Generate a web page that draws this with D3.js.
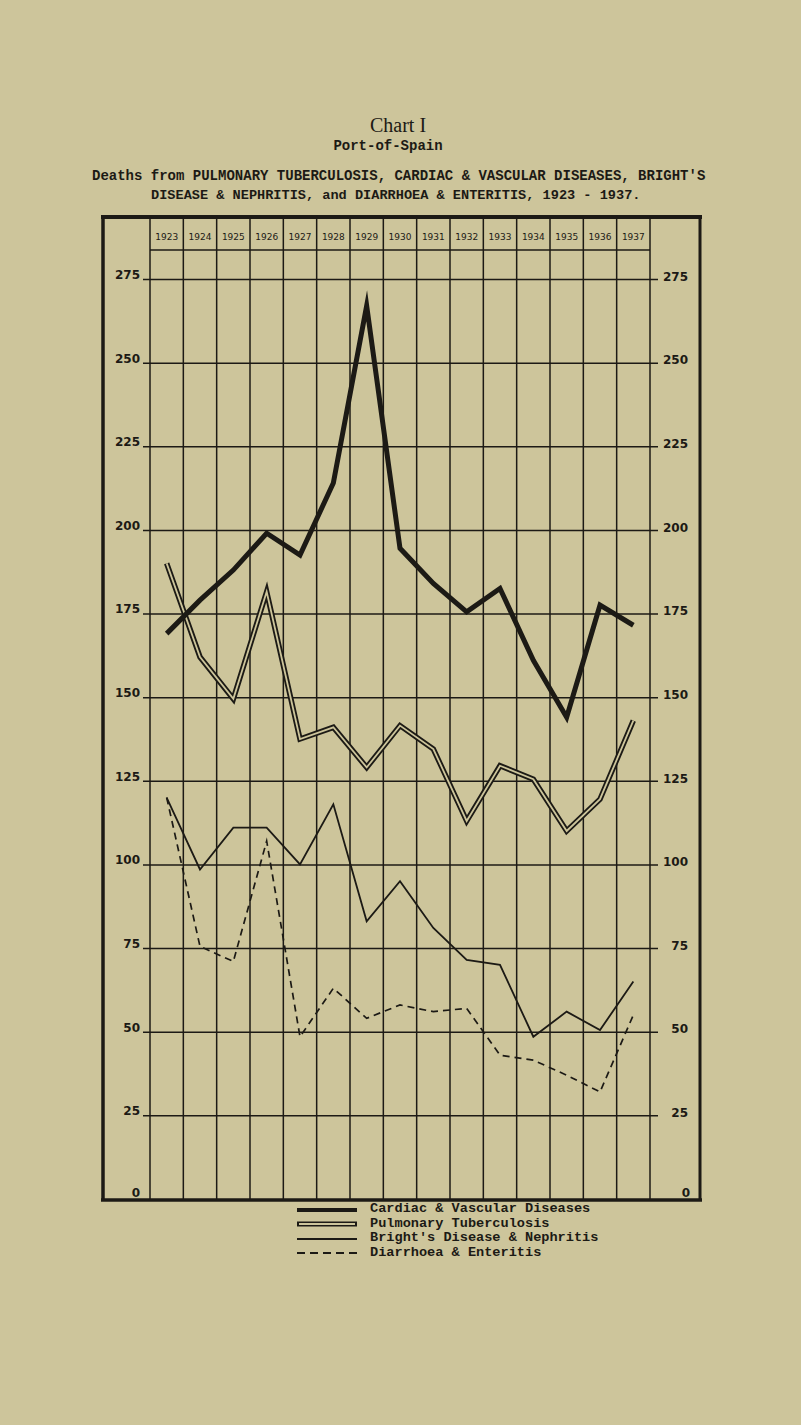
<!DOCTYPE html>
<html>
<head>
<meta charset="utf-8">
<script src="https://cdn.jsdelivr.net/npm/d3@7"></script>
<style>
  html, body { margin: 0; padding: 0; background: #cdc59b; }
  svg { display: block; }
</style>
</head>
<body>
<svg id="chart" width="801" height="1425"></svg>
<script>
const years = [1923, 1924, 1925, 1926, 1927, 1928, 1929, 1930, 1931, 1932, 1933, 1934, 1935, 1936, 1937];
const cardiac   = [169, 179, 188, 199, 192.5, 214, 267, 194.5, 184, 175.5, 182.5, 161, 144, 177.5, 171.5];
const pulmonary = [190, 162, 149.5, 181.5, 137.5, 141, 129, 141.5, 134.5, 113, 129.5, 125.5, 110, 119.5, 143];
const brights   = [120, 98.5, 111, 111, 100, 118, 83, 95, 81, 71.5, 70, 48.5, 56, 50.5, 65];
const diarrhoea = [120, 75.5, 71, 107, 48.5, 63, 54, 58, 56, 57, 43, 41.5, 37, 32, 55];
const yTicks = [0, 25, 50, 75, 100, 125, 150, 175, 200, 225, 250, 275];
const titleChart = "Chart I";
const titlePlace = "Port-of-Spain";
const titleLine1 = "Deaths from PULMONARY TUBERCULOSIS, CARDIAC & VASCULAR DISEASES, BRIGHT'S";
const titleLine2 = "DISEASE & NEPHRITIS, and DIARRHOEA & ENTERITIS, 1923 - 1937.";
const seriesNames = ["Cardiac & Vascular Diseases", "Pulmonary Tuberculosis", "Bright's Disease & Nephritis", "Diarrhoea & Enteritis"];

const PAPER = "#cdc59b";
const INK = "#1c1a15";
const svg = d3.select("#chart");
svg.append("rect").attr("width", 801).attr("height", 1425).attr("fill", PAPER);

const x = d3.scaleBand().domain(years).range([150, 650]).padding(0);
const cx = yr => x(yr) + x.bandwidth() / 2;
const y = d3.scaleLinear().domain([0, 275]).range([1199, 279]);

// Titles
const mono = "'Liberation Mono', 'DejaVu Sans Mono', monospace";
svg.append("text").attr("x", 398).attr("y", 132).attr("text-anchor", "middle")
  .attr("font-family", "'Liberation Serif', serif").attr("font-size", 20).attr("fill", INK).text(titleChart);
svg.append("text").attr("x", 388).attr("y", 150).attr("text-anchor", "middle")
  .attr("font-family", mono).attr("font-weight", "bold").attr("font-size", 14).attr("fill", INK).text(titlePlace);
svg.append("text").attr("x", 92).attr("y", 180)
  .attr("font-family", mono).attr("font-weight", "bold").attr("font-size", 14).attr("fill", INK).text(titleLine1);
svg.append("text").attr("x", 151).attr("y", 199)
  .attr("font-family", mono).attr("font-weight", "bold").attr("font-size", 13.6).attr("fill", INK).text(titleLine2);

// Grid: vertical column lines
const grid = svg.append("g").attr("stroke", INK).attr("stroke-width", 1.5);
const edges = years.map(yr => x(yr)).concat([x.range()[1]]);
grid.selectAll("line.v").data(edges).join("line").attr("class", "v")
  .attr("x1", d => d).attr("x2", d => d).attr("y1", 217).attr("y2", 1200);
// header row separator
grid.append("line").attr("x1", 150).attr("x2", 650).attr("y1", 250).attr("y2", 250);

// Left axis with horizontal gridlines
const leftAxis = d3.axisLeft(y).tickValues(yTicks.filter(v => v > 0)).tickSize(-(658 - 143)).tickPadding(3);
const gL = svg.append("g").attr("transform", "translate(143,0)").call(leftAxis);
gL.select(".domain").remove();
gL.selectAll(".tick line").attr("stroke", INK).attr("stroke-width", 1.5);
gL.selectAll(".tick text").attr("fill", INK).attr("font-family", "'DejaVu Sans', sans-serif")
  .attr("font-weight", "bold").attr("font-size", 12).attr("dy", "-0.05em").attr("x", -3);

// Right axis labels
const rightAxis = d3.axisRight(y).tickValues(yTicks.filter(v => v > 0)).tickSize(0).tickPadding(30);
const gR = svg.append("g").attr("transform", "translate(658,0)").call(rightAxis);
gR.select(".domain").remove();
gR.selectAll(".tick text").attr("fill", INK).attr("font-family", "'DejaVu Sans', sans-serif")
  .attr("font-weight", "bold").attr("font-size", 12).attr("text-anchor", "end").attr("dy", "0.1em");

// zero labels
svg.append("text").attr("x", 140).attr("y", y(0) - 2).attr("text-anchor", "end")
  .attr("font-family", "'DejaVu Sans', sans-serif").attr("font-weight", "bold").attr("font-size", 12).attr("fill", INK).text(yTicks[0]);
svg.append("text").attr("x", 690).attr("y", y(0) - 2).attr("text-anchor", "end")
  .attr("font-family", "'DejaVu Sans', sans-serif").attr("font-weight", "bold").attr("font-size", 12).attr("fill", INK).text(yTicks[0]);

// Year header
const topAxis = d3.axisTop(x).tickSize(0).tickPadding(0);
const gT = svg.append("g").attr("transform", "translate(0,240)").call(topAxis);
gT.select(".domain").remove();
gT.selectAll(".tick text").attr("fill", INK).attr("font-family", "'DejaVu Sans', sans-serif")
  .attr("font-size", 9).attr("dy", 0);

// Frame
const frame = svg.append("g").attr("stroke", INK).attr("fill", "none");
frame.append("line").attr("x1", 101).attr("x2", 702).attr("y1", 217).attr("y2", 217).attr("stroke-width", 4);
frame.append("line").attr("x1", 103).attr("x2", 103).attr("y1", 217).attr("y2", 1201).attr("stroke-width", 3.5);
frame.append("line").attr("x1", 700).attr("x2", 700).attr("y1", 217).attr("y2", 1201).attr("stroke-width", 3);
frame.append("line").attr("x1", 101).attr("x2", 702).attr("y1", 1200).attr("y2", 1200).attr("stroke-width", 3.5);

// Lines
const lineGen = d3.line().x(d => cx(d.yr)).y(d => y(d.v));
const toPts = arr => years.map((yr, i) => ({yr, v: arr[i]}));
const lines = svg.append("g").attr("fill", "none").attr("stroke-linejoin", "miter").attr("stroke-miterlimit", 12);

lines.append("path").attr("d", lineGen(toPts(diarrhoea))).attr("stroke", INK).attr("stroke-width", 1.7).attr("stroke-dasharray", "7,5");
lines.append("path").attr("d", lineGen(toPts(brights))).attr("stroke", INK).attr("stroke-width", 1.8);
lines.append("path").attr("d", lineGen(toPts(pulmonary))).attr("stroke", INK).attr("stroke-width", 5.5);
lines.append("path").attr("d", lineGen(toPts(pulmonary))).attr("stroke", PAPER).attr("stroke-width", 1.8);
lines.append("path").attr("d", lineGen(toPts(cardiac))).attr("stroke", INK).attr("stroke-width", 5);

// Legend
const legY = [1210, 1224, 1239, 1253];
const legT = [1212, 1227, 1241, 1256];
const leg = svg.append("g");
leg.append("line").attr("x1", 297).attr("x2", 357).attr("y1", legY[0]).attr("y2", legY[0]).attr("stroke", INK).attr("stroke-width", 4);
leg.append("line").attr("x1", 297).attr("x2", 357).attr("y1", legY[1]).attr("y2", legY[1]).attr("stroke", INK).attr("stroke-width", 5);
leg.append("line").attr("x1", 299).attr("x2", 355).attr("y1", legY[1]).attr("y2", legY[1]).attr("stroke", PAPER).attr("stroke-width", 1.8);
leg.append("line").attr("x1", 297).attr("x2", 357).attr("y1", legY[2]).attr("y2", legY[2]).attr("stroke", INK).attr("stroke-width", 1.8);
leg.append("line").attr("x1", 297).attr("x2", 357).attr("y1", legY[3]).attr("y2", legY[3]).attr("stroke", INK).attr("stroke-width", 1.8).attr("stroke-dasharray", "8,5");
leg.selectAll("text").data(seriesNames).join("text")
  .attr("x", 370).attr("y", (d, i) => legT[i])
  .attr("font-family", mono).attr("font-weight", "bold").attr("font-size", 13.6).attr("fill", INK)
  .text(d => d);
</script>
</body>
</html>
